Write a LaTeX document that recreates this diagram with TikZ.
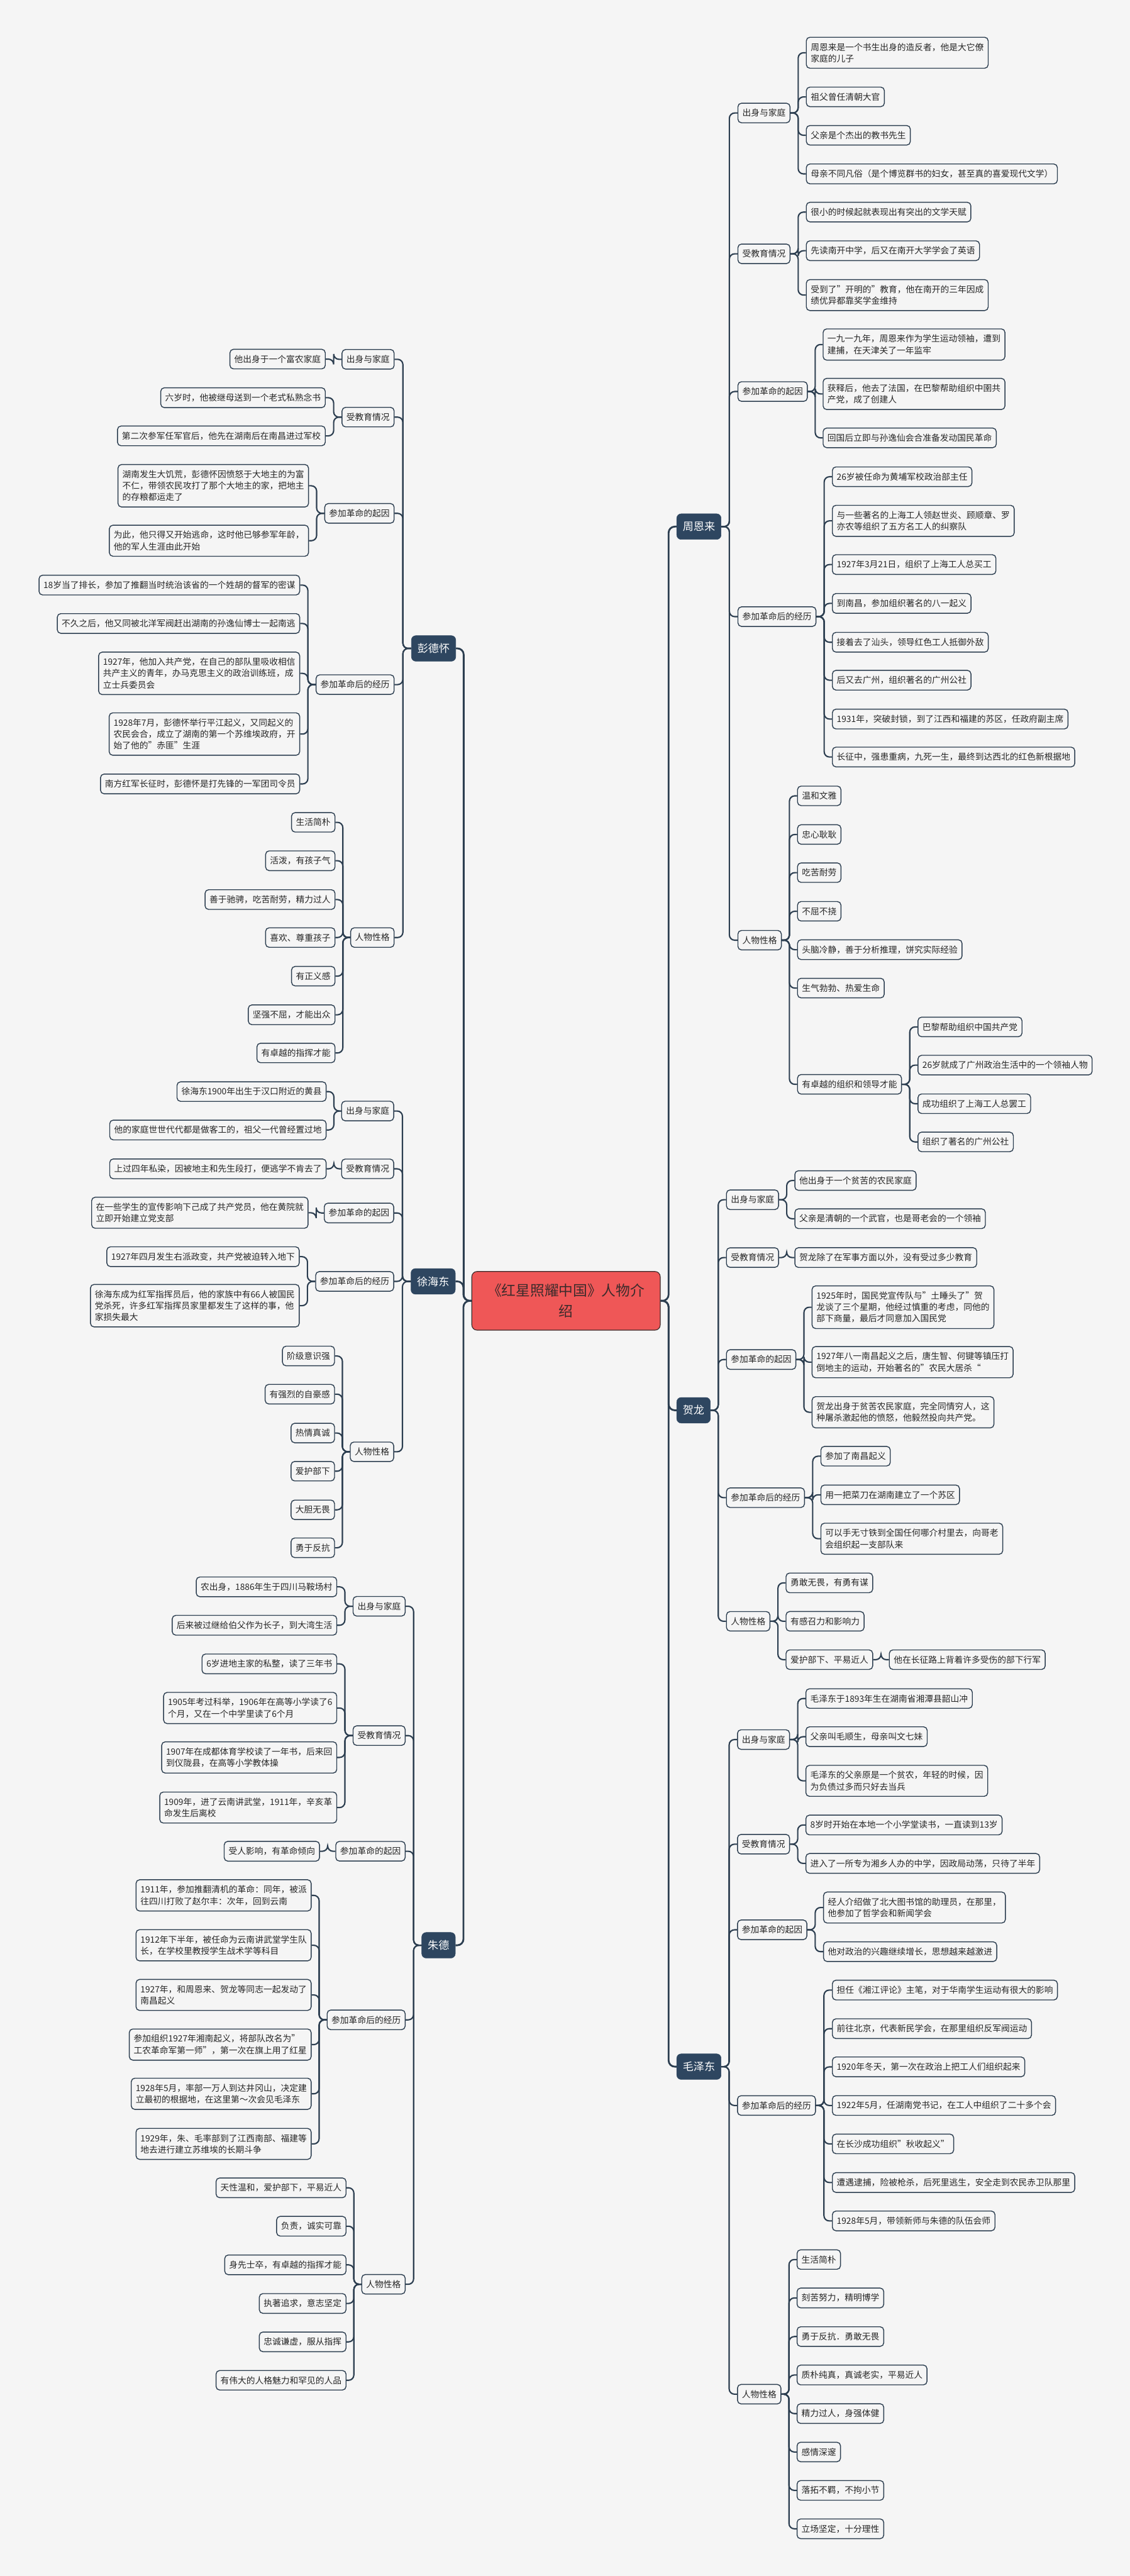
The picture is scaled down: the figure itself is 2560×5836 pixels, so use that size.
\documentclass[tikz,border=0pt]{standalone}
\usepackage{fontspec}
\setmainfont{Noto Sans CJK SC}
\usetikzlibrary{calc}
\definecolor{bgc}{HTML}{F5F5F5}
\definecolor{linec}{HTML}{2C3E50}
\definecolor{nodec}{HTML}{2E4660}
\definecolor{rootc}{HTML}{EF5757}
\definecolor{roottext}{HTML}{3B2B2B}
\definecolor{txtc}{HTML}{262626}
\newcommand\leaffont{\fontsize{9.8pt}{13pt}\selectfont}
\newcommand\lonefont{\fontsize{12.2pt}{14pt}\selectfont}
\newcommand\rootfont{\fontsize{16.2pt}{23pt}\selectfont}
\newcommand\conR[2]{\draw[conn] (#1.east) -- ($(#1.east)!0.5!(#1.east -| #2.west)$) |- (#2.west);}
\newcommand\conL[2]{\draw[conn] (#1.west) -- ($(#1.west)!0.5!(#1.west -| #2.east)$) |- (#2.east);}
\begin{document}
\begin{tikzpicture}[x=0.5pt,y=-0.5pt,
  leaf/.style={draw=linec, line width=1pt, rounded corners=4pt, fill=bgc, text=txtc, font=\leaffont, inner xsep=5pt, inner ysep=6.5pt, minimum height=22pt, align=left},
  R/.style={leaf, anchor=west},
  L/.style={leaf, anchor=east},
  lone/.style={fill=nodec, draw=nodec, rounded corners=5pt, text=white, font=\lonefont, inner xsep=6.8pt, inner ysep=4pt, minimum height=29pt},
  conn/.style={draw=linec, line width=1.5pt, rounded corners=6pt},
  trunk/.style={draw=linec, line width=2pt, rounded corners=7pt}]
\fill[bgc] (0,0) rectangle (2560,5836);
\useasboundingbox (0,0) rectangle (2560,5836);

% root
\node[fill=rootc, draw=roottext, line width=0.8pt, rounded corners=6pt, text=roottext, font=\rootfont, minimum width=213.5pt, minimum height=66.5pt, align=center] (root) at (1282.5,2947) {《红星照耀中国》人物介\\绍};

% ===== 周恩来 =====
\node[lone, anchor=west] (zhou) at (1533,1193) {周恩来};
\node[R] (zA) at (1671,256) {出身与家庭};
\node[R] (zA1) at (1826,119.5) {周恩来是一个书生出身的造反者，他是大它僚\\家庭的儿子};
\node[R] (zA2) at (1826,219.5) {祖父曾任清朝大官};
\node[R] (zA3) at (1826,306.5) {父亲是个杰出的教书先生};
\node[R] (zA4) at (1826,394) {母亲不同凡俗（是个博览群书的妇女，甚至真的喜爱现代文学）};
\node[R] (zB) at (1671,575) {受教育情况};
\node[R] (zB1) at (1826,480.5) {很小的时候起就表现出有突出的文学天赋};
\node[R] (zB2) at (1826,568) {先读南开中学，后又在南开大学学会了英语};
\node[R] (zB3) at (1826,668.5) {受到了”开明的”教育，他在南开的三年因成\\绩优异都靠奖学金维持};
\node[R] (zC) at (1671,887) {参加革命的起因};
\node[R] (zC1) at (1864,780.5) {一九一九年，周恩来作为学生运动领袖，遭到\\建捕，在天津关了一年监牢};
\node[R] (zC2) at (1864,892.5) {获释后，他去了法国，在巴黎帮助组织中圉共\\产党，成了创建人};
\node[R] (zC3) at (1864,992) {回国后立即与孙逸仙会合准备发动国民革命};
\node[R] (zD) at (1671,1397) {参加革命后的经历};
\node[R] (zD1) at (1885,1080) {26岁被任命为黄埔军校政治部主任};
\node[R] (zD2) at (1885,1180) {与一些著名的上海工人领赵世炎、顾顺章、罗\\亦农等组织了五方名工人的纠察队};
\node[R] (zD3) at (1885,1279) {1927年3月21日，组织了上海工人总买工};
\node[R] (zD4) at (1885,1367) {到南昌，参加组织著名的八一起义};
\node[R] (zD5) at (1885,1455) {接着去了汕头，领导红色工人抵御外敌};
\node[R] (zD6) at (1885,1541) {后又去广州，组织著名的广州公社};
\node[R] (zD7) at (1885,1629) {1931年，突破封锁，到了江西和福建的苏区，任政府副主席};
\node[R] (zD8) at (1885,1715) {长征中，强患重病，九死一生，最终到达西北的红色新根据地};
\node[R] (zE) at (1671,2130) {人物性格};
\node[R] (zE1) at (1806,1803) {温和文雅};
\node[R] (zE2) at (1806,1890.5) {忠心耿耿};
\node[R] (zE3) at (1806,1977) {吃苦耐劳};
\node[R] (zE4) at (1806,2064.5) {不屈不挠};
\node[R] (zE5) at (1806,2151.5) {头脑冷静，善于分析推理，饼究实际经验};
\node[R] (zE6) at (1806,2238.5) {生气勃勃、热爱生命};
\node[R] (zE7) at (1806,2456.5) {有卓越的组织和领导才能};
\node[R] (zF1) at (2079,2326.5) {巴黎帮助组织中国共产党};
\node[R] (zF2) at (2079,2413) {26岁就成了广州政治生活中的一个领袖人物};
\node[R] (zF3) at (2079,2500.5) {成功组织了上海工人总罢工};
\node[R] (zF4) at (2079,2587) {组织了著名的广州公社};

% ===== 贺龙 =====
\node[lone, anchor=west] (hel) at (1533,3195) {贺龙};
\node[R] (hA) at (1645,2718) {出身与家庭};
\node[R] (hA1) at (1800,2674.5) {他出身于一个贫苦的农民家庭};
\node[R] (hA2) at (1800,2761) {父亲是清朝的一个武官，也是哥老会的一个领袖};
\node[R] (hB) at (1645,2849) {受教育情况};
\node[R] (hB1) at (1800,2849) {贺龙除了在军事方面以外，没有受过多少教育};
\node[R] (hC) at (1645,3080) {参加革命的起因};
\node[R] (hC1) at (1839,2961.5) {1925年时，国民党宣传队与”土睡头了”贺\\龙谈了三个星期，他经过慎重的考虑，同他的\\部下商量，最后才同意加入国民党};
\node[R] (hC2) at (1839,3086) {1927年八一南昌起义之后，唐生智、何键等镇压打\\倒地主的运动，开始著名的”农民大居杀“};
\node[R] (hC3) at (1839,3199.5) {贺龙出身于贫苦农民家庭，完全同情穷人，这\\种屠杀激起他的愤怒，他毅然投向共产党。};
\node[R] (hD) at (1645,3393) {参加革命后的经历};
\node[R] (hD1) at (1859,3299) {参加了南昌起义};
\node[R] (hD2) at (1859,3386.5) {用一把菜刀在湖南建立了一个苏区};
\node[R] (hD3) at (1859,3486) {可以手无寸铁到全国任何哪介村里去，向哥老\\会组织起一支部队来};
\node[R] (hE) at (1645,3673) {人物性格};
\node[R] (hE1) at (1780,3586) {勇敢无畏，有勇有谋};
\node[R] (hE2) at (1780,3673) {有感召力和影响力};
\node[R] (hE3) at (1780,3760) {爱护部下、平易近人};
\node[R] (hE4) at (2014,3760) {他在长征路上背着许多受伤的部下行军};

% ===== 毛泽东 =====
\node[lone, anchor=west] (mao) at (1533,4682) {毛泽东};
\node[R] (mA) at (1670,3941) {出身与家庭};
\node[R] (mA1) at (1825,3848) {毛泽东于1893年生在湖南省湘潭县韶山冲};
\node[R] (mA2) at (1825,3934.5) {父亲叫毛顺生，母亲叫文七妹};
\node[R] (mA3) at (1825,4034.5) {毛泽东的父亲原是一个贫农，年轻的时候，因\\为负债过多而只好去当兵};
\node[R] (mB) at (1670,4178) {受教育情况};
\node[R] (mB1) at (1825,4134.5) {8岁时开始在本地一个小学堂读书，一直读到13岁};
\node[R] (mB2) at (1825,4221.5) {进入了一所专为湘乡人办的中学，因政局动荡，只待了半年};
\node[R] (mC) at (1670,4372) {参加革命的起因};
\node[R] (mC1) at (1865,4321.5) {经人介绍做了北大图书馆的助理员，在那里，\\他参加了哲学会和新闻学会};
\node[R] (mC2) at (1865,4421.5) {他对政治的兴趣继续增长，思想越来越激进};
\node[R] (mD) at (1670,4770) {参加革命后的经历};
\node[R] (mD1) at (1885,4508.5) {担任《湘江评论》主笔，对于华南学生运动有很大的影响};
\node[R] (mD2) at (1885,4596) {前往北京，代表新民学会，在那里组织反军阀运动};
\node[R] (mD3) at (1885,4682.5) {1920年冬天，第一次在政治上把工人们组织起来};
\node[R] (mD4) at (1885,4770) {1922年5月，任湖南党书记，在工人中组织了二十多个会};
\node[R] (mD5) at (1885,4857) {在长沙成功组织”秋收起义”};
\node[R] (mD6) at (1885,4944.5) {遭遇逮捕，险被枪杀，后死里逃生，安全走到农民赤卫队那里};
\node[R] (mD7) at (1885,5031.5) {1928年5月，带领新师与朱德的队伍会师};
\node[R] (mE) at (1670,5424) {人物性格};
\node[R] (mE1) at (1805,5119) {生活简朴};
\node[R] (mE2) at (1805,5206) {刻苦努力，精明博学};
\node[R] (mE3) at (1805,5293.5) {勇于反抗．勇敢无畏};
\node[R] (mE4) at (1805,5380.5) {质朴纯真，真诚老实，平易近人};
\node[R] (mE5) at (1805,5468) {精力过人，身强体健};
\node[R] (mE6) at (1805,5555) {感情深邃};
\node[R] (mE7) at (1805,5642) {落拓不羁，不拘小节};
\node[R] (mE8) at (1805,5729) {立场坚定，十分理性};

% ===== 彭德怀 =====
\node[lone, anchor=east] (peng) at (1033,1469) {彭德怀};
\node[L] (pA) at (894,814) {出身与家庭};
\node[L] (pA1) at (738,813.5) {他出身于一个富农家庭};
\node[L] (pB) at (894,945) {受教育情况};
\node[L] (pB1) at (738,901) {六岁时，他被继母送到一个老式私熟念书};
\node[L] (pB2) at (738,987.5) {第二次参军任军官后，他先在湖南后在南昌进过军校};
\node[L] (pC) at (894,1163) {参加革命的起因};
\node[L] (pC1) at (700,1100.5) {湖南发生大饥荒，彭德怀因愤怒于大地主的为富\\不仁，带领农民攻打了那个大地主的家，把地主\\的存粮都运走了};
\node[L] (pC2) at (700,1225) {为此，他只得又开始逃命，这时他已够参军年龄，\\他的军人生涯由此开始};
\node[L] (pD) at (894,1551) {参加革命后的经历};
\node[L] (pD1) at (680,1325.5) {18岁当了排长，参加了推翻当时统治该省的一个姓胡的督军的密谋};
\node[L] (pD2) at (680,1412.5) {不久之后，他又同被北洋军阀赶出湖南的孙逸仙博士一起南逃};
\node[L] (pD3) at (680,1525.5) {1927年，他加入共产党，在自己的部队里吸收相信\\共产主义的青年，办马克思主义的政治训练班，成\\立士兵委员会};
\node[L] (pD4) at (680,1663) {1928年7月，彭德怀举行平江起义，又同起义的\\农民会合，成立了湖南的第一个苏维埃政府，开\\始了他的”赤匪”生涯};
\node[L] (pD5) at (680,1776) {南方红军长征时，彭德怀是打先锋的一军团司令员};
\node[L] (pE) at (894,2124) {人物性格};
\node[L] (pE1) at (760,1863) {生活简朴};
\node[L] (pE2) at (760,1950) {活泼，有孩子气};
\node[L] (pE3) at (760,2038) {善于驰骋，吃苦耐劳，精力过人};
\node[L] (pE4) at (760,2124) {喜欢、尊重孩子};
\node[L] (pE5) at (760,2211.5) {有正义感};
\node[L] (pE6) at (760,2299) {坚强不屈，才能出众};
\node[L] (pE7) at (760,2385.5) {有卓越的指挥才能};

% ===== 徐海东 =====
\node[lone, anchor=east] (xu) at (1032,2903) {徐海东};
\node[L] (xA) at (893,2517) {出身与家庭};
\node[L] (xA1) at (740,2473) {徐海东1900年出生于汉口附近的黄县};
\node[L] (xA2) at (740,2560) {他的家庭世世代代都是做客工的，祖父一代曾经置过地};
\node[L] (xB) at (893,2648) {受教育情况};
\node[L] (xB1) at (740,2648) {上过四年私染，因被地主和先生段打，便逃学不肯去了};
\node[L] (xC) at (893,2748) {参加革命的起因};
\node[L] (xC1) at (699,2747.5) {在一些学生的宣传影响下己成了共产党员，他在黄院就\\立即开始建立党支部};
\node[L] (xD) at (893,2903) {参加革命后的经历};
\node[L] (xD1) at (679,2847) {1927年四月发生右派政变，共产党被迫转入地下};
\node[L] (xD2) at (679,2958) {徐海东成为红军指挥员后，他的家族中有66人被国民\\党杀死，许多红军指挥员家里都发生了这样的事，他\\家损失最大};
\node[L] (xE) at (893,3289) {人物性格};
\node[L] (xE1) at (759,3072) {阶级意识强};
\node[L] (xE2) at (759,3158.5) {有强烈的自豪感};
\node[L] (xE3) at (759,3246.5) {热情真诚};
\node[L] (xE4) at (759,3333) {爱护部下};
\node[L] (xE5) at (759,3420.5) {大胆无畏};
\node[L] (xE6) at (759,3506.5) {勇于反抗};

% ===== 朱德 =====
\node[lone, anchor=east] (zhu) at (1032,4407) {朱德};
\node[L] (uA) at (919,3639) {出身与家庭};
\node[L] (uA1) at (764,3595) {农出身，1886年生于四川马鞍场村};
\node[L] (uA2) at (764,3682) {后来被过继给伯父作为长子，到大湾生活};
\node[L] (uB) at (919,3932) {受教育情况};
\node[L] (uB1) at (764,3769.5) {6岁进地主家的私整，读了三年书};
\node[L] (uB2) at (764,3869.5) {1905年考过科举，1906年在高等小学读了6\\个月，又在一个中学里读了6个月};
\node[L] (uB3) at (764,3981.5) {1907年在成都体育学校读了一年书，后来回\\到仪陇县，在高等小学教体操};
\node[L] (uB4) at (764,4095) {1909年，进了云南讲武堂，1911年，辛亥革\\命发生后离校};
\node[L] (uC) at (919,4194) {参加革命的起因};
\node[L] (uC1) at (725,4194) {受人影响，有革命倾向};
\node[L] (uD) at (919,4576) {参加革命后的经历};
\node[L] (uD1) at (706,4294) {1911年，参加推翻清机的革命：同年，被派\\往四川打败了赵尔丰：次年，回到云南};
\node[L] (uD2) at (706,4407) {1912年下半年，被任命为云南讲武堂学生队\\长，在学校里教授学生战术学等科目};
\node[L] (uD3) at (706,4519.5) {1927年，和周恩来、贺龙等同志一起发动了\\南昌起义};
\node[L] (uD4) at (706,4632) {参加组织1927年湘南起义，将部队改名为”\\工农革命军第一师”，第一次在旗上用了红星};
\node[L] (uD5) at (706,4743.5) {1928年5月，率部一万人到达井冈山，决定建\\立最初的根据地，在这里第～次会见毛泽东};
\node[L] (uD6) at (706,4857) {1929年，朱、毛率部到了江西南部、福建等\\地去进行建立苏维埃的长期斗争};
\node[L] (uE) at (919,5175) {人物性格};
\node[L] (uE1) at (785,4956.5) {天性温和，爱护部下，平易近人};
\node[L] (uE2) at (785,5043.5) {负责，诚实可靠};
\node[L] (uE3) at (785,5131) {身先士卒，有卓越的指挥才能};
\node[L] (uE4) at (785,5218.5) {执著追求，意志坚定};
\node[L] (uE5) at (785,5305.5) {忠诚谦虚，服从指挥};
\node[L] (uE6) at (785,5392.5) {有伟大的人格魅力和罕见的人品};

% ===== connectors =====
\foreach \c in {zhou,hel,mao} {\draw[trunk] (root.east) -- ($(root.east)!0.5!(root.east -| \c.west)$) |- (\c.west);}
\foreach \c in {peng,xu,zhu} {\draw[trunk] (root.west) -- ($(root.west)!0.5!(root.west -| \c.east)$) |- (\c.east);}

\foreach \c in {zA,zB,zC,zD,zE} {\conR{zhou}{\c}}
\foreach \c in {zA1,zA2,zA3,zA4} {\conR{zA}{\c}}
\foreach \c in {zB1,zB2,zB3} {\conR{zB}{\c}}
\foreach \c in {zC1,zC2,zC3} {\conR{zC}{\c}}
\foreach \c in {zD1,zD2,zD3,zD4,zD5,zD6,zD7,zD8} {\conR{zD}{\c}}
\foreach \c in {zE1,zE2,zE3,zE4,zE5,zE6,zE7} {\conR{zE}{\c}}
\foreach \c in {zF1,zF2,zF3,zF4} {\conR{zE7}{\c}}

\foreach \c in {hA,hB,hC,hD,hE} {\conR{hel}{\c}}
\foreach \c in {hA1,hA2} {\conR{hA}{\c}}
\conR{hB}{hB1}
\foreach \c in {hC1,hC2,hC3} {\conR{hC}{\c}}
\foreach \c in {hD1,hD2,hD3} {\conR{hD}{\c}}
\foreach \c in {hE1,hE2,hE3} {\conR{hE}{\c}}
\conR{hE3}{hE4}

\foreach \c in {mA,mB,mC,mD,mE} {\conR{mao}{\c}}
\foreach \c in {mA1,mA2,mA3} {\conR{mA}{\c}}
\foreach \c in {mB1,mB2} {\conR{mB}{\c}}
\foreach \c in {mC1,mC2} {\conR{mC}{\c}}
\foreach \c in {mD1,mD2,mD3,mD4,mD5,mD6,mD7} {\conR{mD}{\c}}
\foreach \c in {mE1,mE2,mE3,mE4,mE5,mE6,mE7,mE8} {\conR{mE}{\c}}

\foreach \c in {pA,pB,pC,pD,pE} {\conL{peng}{\c}}
\conL{pA}{pA1}
\foreach \c in {pB1,pB2} {\conL{pB}{\c}}
\foreach \c in {pC1,pC2} {\conL{pC}{\c}}
\foreach \c in {pD1,pD2,pD3,pD4,pD5} {\conL{pD}{\c}}
\foreach \c in {pE1,pE2,pE3,pE4,pE5,pE6,pE7} {\conL{pE}{\c}}

\foreach \c in {xA,xB,xC,xD,xE} {\conL{xu}{\c}}
\foreach \c in {xA1,xA2} {\conL{xA}{\c}}
\conL{xB}{xB1}
\conL{xC}{xC1}
\foreach \c in {xD1,xD2} {\conL{xD}{\c}}
\foreach \c in {xE1,xE2,xE3,xE4,xE5,xE6} {\conL{xE}{\c}}

\foreach \c in {uA,uB,uC,uD,uE} {\conL{zhu}{\c}}
\foreach \c in {uA1,uA2} {\conL{uA}{\c}}
\foreach \c in {uB1,uB2,uB3,uB4} {\conL{uB}{\c}}
\conL{uC}{uC1}
\foreach \c in {uD1,uD2,uD3,uD4,uD5,uD6} {\conL{uD}{\c}}
\foreach \c in {uE1,uE2,uE3,uE4,uE5,uE6} {\conL{uE}{\c}}
\end{tikzpicture}
\end{document}
